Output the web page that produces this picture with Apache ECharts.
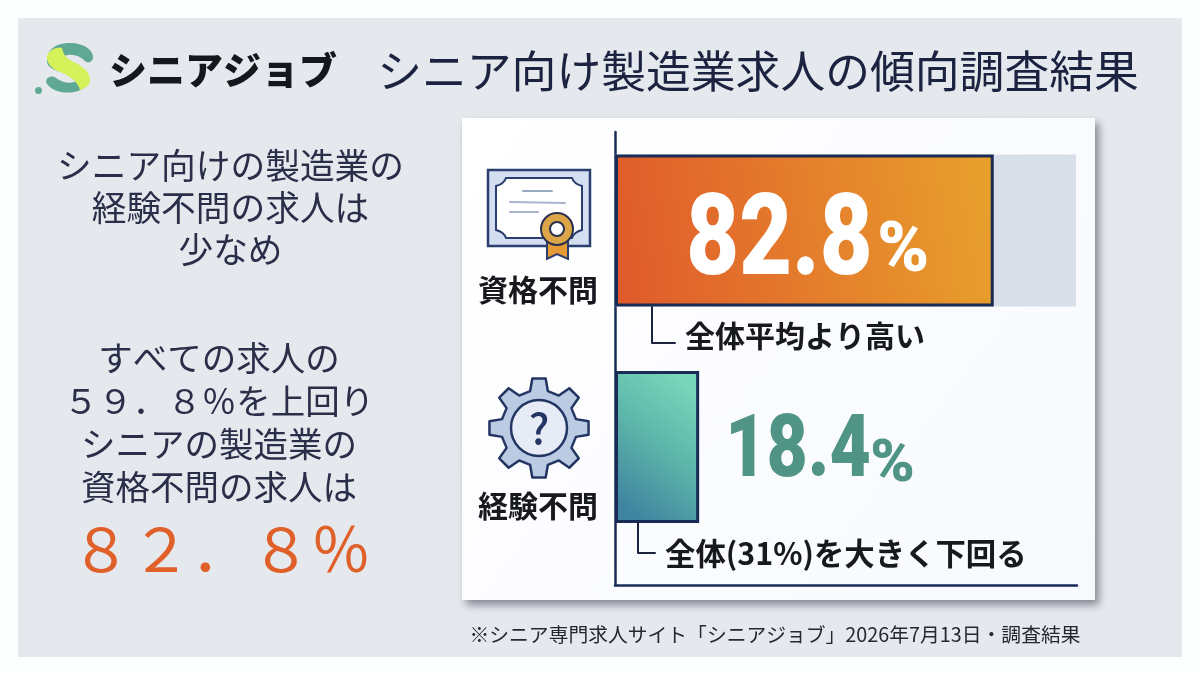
<!DOCTYPE html>
<html lang="ja"><head><meta charset="utf-8">
<style>html,body{margin:0;padding:0;background:#fdfefe}#c{width:1200px;height:675px}</style>
<script src="https://cdn.jsdelivr.net/npm/echarts@6/dist/echarts.min.js"></script>
</head><body><div id="c"></div>
<script>
const categories = ['資格不問', '経験不問'];
const rateValues = [82.8, 18.4];
const trackValues = [100.8, null];
const axisMax = 101;
const brandName = 'シニアジョブ';
const titleText = 'シニア向け製造業求人の傾向調査結果';
const leadLines = ['シニア向けの製造業の', '経験不問の求人は', '少なめ'];
const bodyLines = ['すべての求人の', '５９．８％を上回り', 'シニアの製造業の', '資格不問の求人は'];
const bigFigure = '８２．８％';
const calloutTexts = ['全体平均より高い', '全体(31%)を大きく下回る'];
const footnote = '※シニア専門求人サイト「シニアジョブ」2026年7月13日・調査結果';

const JP = '"Noto Sans CJK JP","Noto Sans",sans-serif';
const NAVY = '#1a2b55';
const chart = echarts.init(document.getElementById('c'), null, {renderer: 'canvas', width: 1200, height: 675});

function txt(x, y, text, size, fill, extra) {
  return {type: 'text', x, y, z: (extra && extra.z) || 5, silent: true, style: {
    text, fill, font: (extra && extra.w || 400) + ' ' + size + 'px ' + JP,
    textAlign: (extra && extra.align) || 'center', textVerticalAlign: 'middle'}};
}
function line(points, color, w) {
  return {type: 'polyline', z: 5, silent: true, shape: {points}, style: {stroke: color, lineWidth: w, fill: null, lineJoin: 'round', lineCap: 'round'}};
}
let shapeId = 0;
function pathEl(d, z, style) {
  const name = 'deco' + (shapeId++);
  echarts.graphic.registerShape(name, echarts.graphic.extendPath(d, {}));
  return {type: name, z, silent: true, style};
}
function gearPoints(cx, cy, rOut, rIn, teeth) {
  const out = [];
  const step = Math.PI * 2 / teeth;
  for (let i = 0; i < teeth; i++) {
    const a = -Math.PI / 2 + i * step;
    [[rIn, a - step * 0.30], [rOut, a - step * 0.17], [rOut, a + step * 0.17], [rIn, a + step * 0.30]].forEach(p => {
      out.push([cx + p[0] * Math.cos(p[1]), cy + p[0] * Math.sin(p[1])]);
    });
  }
  return out;
}

const graphics = [
  {type: 'rect', z: -10, silent: true, shape: {x: 18, y: 18, width: 1164, height: 639}, style: {fill: '#e5e8ed'}},
  {type: 'rect', z: -9, silent: true, shape: {x: 462, y: 118, width: 633, height: 482},
    style: {fill: {type: 'linear', x: 0, y: 0, x2: 1, y2: 1, colorStops: [{offset: 0, color: '#ffffff'}, {offset: 1, color: '#f7f9fd'}]},
      shadowBlur: 8, shadowColor: 'rgba(70,75,90,0.6)', shadowOffsetX: 4, shadowOffsetY: 5}},

  // logo mark
  pathEl('M47 61 C47 48 58 43 70 43 C82 43 93 49 93 57 C93 62 88 64 85 61 C80 56 74 54 68 55 C62 56 60 60 65 63 L85 74 C93 79 90 87 78 91 C65 95 52 91 47 84 C44 79 50 74 56 78 C62 83 72 84 76 81 C78 79 76 77 72 75 L55 70 C50 68 47 65 47 61 Z', 5, {fill: '#5fa893'}),
  pathEl('M47 56 C50 49 56 47 62 48 C63 52 64 56 70 60 C80 65 90 70 90 80 C90 85 86 88 80 90 C78 82 70 76 60 72 C52 69 46 63 47 56 Z', 6, {fill: '#d6f25a'}),
  {type: 'circle', z: 5, silent: true, shape: {cx: 38.5, cy: 90.5, r: 3.5}, style: {fill: '#5fa893'}},
  txt(109, 70, brandName, 38, '#15171c', {w: 900, align: 'left'}),
  txt(758, 71, titleText, 44.8, '#1c2340', {w: 400}),

  // certificate icon
  {type: 'rect', z: 5, silent: true, shape: {x: 488, y: 170, width: 102, height: 76}, style: {fill: '#d3def0', stroke: '#2a3f6e', lineWidth: 2.5}},
  pathEl('M506 178 L572 178 Q574 184 582 186 L582 230 Q574 232 572 238 L506 238 Q504 232 496 230 L496 186 Q504 184 506 178 Z', 5, {fill: '#ffffff', stroke: '#2a3f6e', lineWidth: 2}),
  line([[523, 191], [552, 191]], '#9aa9c2', 2),
  line([[510, 202], [565, 203]], '#a8b4c9', 2),
  line([[510, 212], [538, 212]], '#a8b4c9', 2),
  {type: 'polygon', z: 6, silent: true, shape: {points: [[547, 236], [568, 236], [568, 259], [557, 254], [547, 259]]}, style: {fill: '#e69a35', stroke: '#2a3f6e', lineWidth: 2}},
  {type: 'circle', z: 7, silent: true, shape: {cx: 557, cy: 229, r: 16}, style: {fill: '#dca548', stroke: '#2a3050', lineWidth: 2}},
  {type: 'circle', z: 8, silent: true, shape: {cx: 557, cy: 229, r: 7}, style: {fill: '#ffffff', stroke: '#2a3050', lineWidth: 2}},

  // gear icon
  {type: 'polygon', z: 5, silent: true, shape: {points: gearPoints(539, 428, 50, 38, 8)}, style: {fill: '#bccbe4', stroke: '#233663', lineWidth: 2.5, lineJoin: 'round'}},
  {type: 'circle', z: 6, silent: true, shape: {cx: 539, cy: 428, r: 28}, style: {fill: '#e6ebf5', stroke: '#233663', lineWidth: 2.5}},
  txt(539, 428, '?', 42, '#233663', {w: 500, z: 7}),

  // callouts
  line([[652, 307], [652, 343], [675, 343]], '#1c2340', 2),
  txt(685, 336, calloutTexts[0], 30, '#17191f', {w: 700, align: 'left'}),
  line([[638, 523], [638, 553], [655, 553]], '#1c2340', 2),
  txt(665, 553, calloutTexts[1], 30.4, '#17191f', {w: 700, align: 'left'}),

  // left column
  ...leadLines.map((t, i) => txt(230.5, 166 + i * 42, t, 34.7, '#2a2e48')),
  ...bodyLines.map((t, i) => txt(219, 358 + i * 43, t, 34.5, '#2a2e48')),
  txt(221, 549, bigFigure, 60, '#e0602a'),

  txt(775, 634, footnote, 19.8, '#26282e', {w: 400})
];

const barColors = [
  {type: 'linear', x: 0, y: 0.7, x2: 1, y2: 0.3, colorStops: [{offset: 0, color: '#e05a2b'}, {offset: 1, color: '#e8a02c'}]},
  {type: 'linear', x: 0, y: 0.85, x2: 1, y2: 0.15, colorStops: [{offset: 0, color: '#3f84a0'}, {offset: 0.5, color: '#5cb3a9'}, {offset: 1, color: '#78d6ba'}]}
];

function condensed(x, y, text, size, sx, fill) {
  return {type: 'text', x, y, scaleX: sx, z2: 50, silent: true,
    style: {text, fill, font: '900 ' + size + 'px Roboto, sans-serif', textAlign: 'left', textVerticalAlign: 'middle'}};
}
function renderRateLabel(params, api) {
  const v = api.value(0), idx = api.value(1);
  const end = api.coord([v, idx]);
  if (params.dataIndex === 0) {
    const mid = api.coord([v / 2, idx]);
    return {type: 'group', children: [
      condensed(mid[0] - 118, mid[1] + 15, String(v), 114, 0.80, '#ffffff'),
      condensed(mid[0] + 73, mid[1] + 23, '%', 70, 1.0, '#ffffff')
    ]};
  }
  return {type: 'group', children: [
    condensed(end[0] + 26, end[1] + 7, String(v), 87, 0.82, '#4f9485'),
    condensed(end[0] + 171, end[1] + 18.5, '%', 60, 1.0, '#4f9485')
  ]};
}

const option = {
  animation: false,
  backgroundColor: '#fdfefe',
  graphic: {elements: graphics},
  grid: [
    {left: 615, top: 122.25, width: 462, height: 433},
    {left: 615, top: 132, width: 462, height: 453}
  ],
  xAxis: [
    {type: 'value', gridIndex: 0, min: 0, max: axisMax, show: false},
    {type: 'value', gridIndex: 1, min: 0, max: axisMax, axisLine: {show: true, onZero: false, lineStyle: {color: NAVY, width: 2.5}},
      axisTick: {show: false}, axisLabel: {show: false}, splitLine: {show: false}}
  ],
  yAxis: [
    {type: 'category', gridIndex: 0, inverse: true, data: categories,
      axisLine: {show: false}, axisTick: {show: false},
      axisLabel: {margin: 17, formatter: v => '{c|' + v + '}',
        rich: {c: {color: '#17191f', fontFamily: JP, fontSize: 30, fontWeight: 700, padding: [118, 0, 0, 0]}}}},
    {type: 'value', gridIndex: 1, min: 0, max: 1, axisLine: {show: true, onZero: false, lineStyle: {color: NAVY, width: 2.5}},
      axisTick: {show: false}, axisLabel: {show: false}, splitLine: {show: false}}
  ],
  series: [
    {type: 'bar', xAxisIndex: 0, yAxisIndex: 0, data: trackValues, barWidth: 152, barGap: '-100%', silent: true,
      itemStyle: {color: '#d8dfe9'}},
    {type: 'bar', xAxisIndex: 0, yAxisIndex: 0, barWidth: 152, barGap: '-100%', silent: true,
      data: rateValues.map((v, i) => ({value: v, itemStyle: {color: barColors[i], borderColor: NAVY, borderWidth: 3}}))},
    {type: 'custom', xAxisIndex: 0, yAxisIndex: 0, silent: true, z: 10, clip: false,
      encode: {x: 0, y: 1}, data: rateValues.map((v, i) => [v, i]), renderItem: renderRateLabel},
    {type: 'line', xAxisIndex: 1, yAxisIndex: 1, data: [], silent: true}
  ]
};
chart.setOption(option);
</script></body></html>
